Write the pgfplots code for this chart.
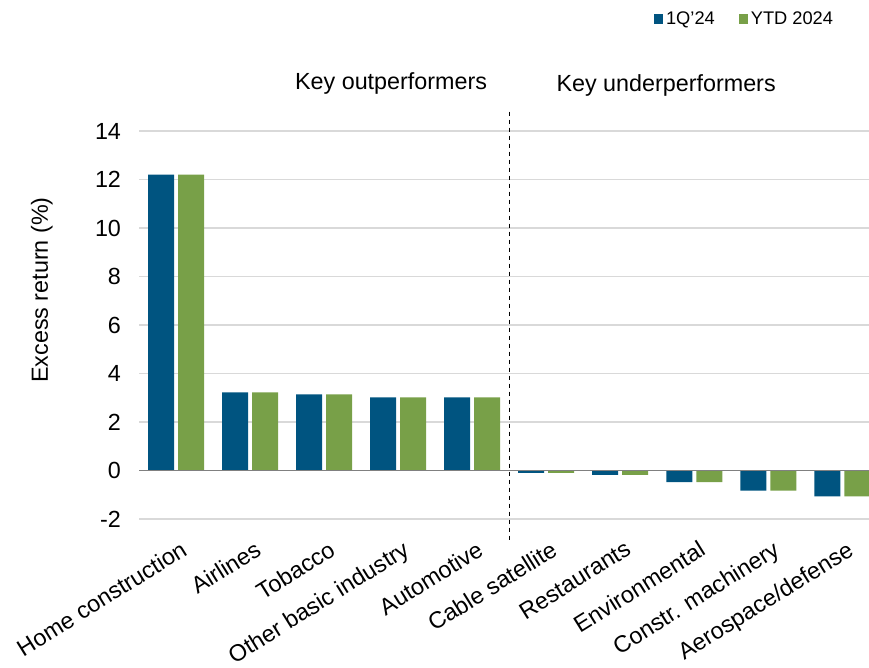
\documentclass[border=0pt]{standalone}
\usepackage{pgfplots}
\pgfplotsset{compat=1.18}
\usepackage{fontspec}
\setmainfont{Liberation Sans}
\definecolor{cblue}{RGB}{0,84,128}
\definecolor{cgreen}{RGB}{120,160,72}
\definecolor{cgrid}{RGB}{217,217,217}
\pgfplotsset{sqleg/.style={legend image code/.code={\fill[##1] (0pt,-3.6pt) rectangle (7pt,3.6pt);}}}
\newcommand{\bigf}{\fontsize{17.5}{20}\selectfont}
\begin{document}
\begin{tikzpicture}
\begin{axis}[
  name=ax,
  scale only axis,
  width=547.5pt, height=291pt,
  xmin=-0.5, xmax=9.36,
  ymin=-2, ymax=14,
  ybar=3pt, bar width=19.5pt,
  xtick={0,...,9},
  xticklabels={Home construction,Airlines,Tobacco,Other basic industry,Automotive,Cable satellite,Restaurants,Environmental,Constr. machinery,Aerospace/defense},
  xticklabel style={xshift=3pt, yshift=-14pt, rotate=32, anchor=north east, inner sep=1pt},
  ytick={-2,0,2,4,6,8,10,12,14},
  yticklabels={-2,0,2,4,6,8,10,12,14},
  yticklabel style={xshift=-10pt},
  major tick length=0pt,
  axis line style={draw=none},
  ymajorgrids, grid style={cgrid, line width=0.9pt},
  tick label style={font=\bigf},
  ylabel={Excess return (\%)},
  ylabel style={font=\bigf, at={(rel axis cs:-0.133,0.59)}, anchor=center},
  legend style={at={(rel axis cs:0.83,1.289)}, anchor=center, draw=none, font=\fontsize{13.7}{16}\selectfont, legend columns=2, /tikz/every even column/.append style={column sep=16pt}},
  clip=true,
]
\addplot[fill=cblue, draw=none, sqleg] coordinates {(0,12.2) (1,3.22) (2,3.14) (3,3.02) (4,3.02) (5,-0.10) (6,-0.18) (7,-0.48) (8,-0.83) (9,-1.07)};
\addlegendentry{1Q'24}
\addplot[fill=cgreen, draw=none, sqleg] coordinates {(0,12.2) (1,3.22) (2,3.14) (3,3.02) (4,3.02) (5,-0.10) (6,-0.18) (7,-0.48) (8,-0.83) (9,-1.07)};
\addlegendentry{YTD 2024}
\draw[gray, line width=0.9pt] (axis cs:-0.5,0) -- (axis cs:9.36,0);
\end{axis}
\begin{axis}[
  scale only axis, width=547.5pt, height=291pt,
  xmin=-0.5, xmax=9.36, ymin=-2, ymax=14, hide axis, clip=false]
\draw[black, dashed, line width=0.8pt] (axis cs:4.5,14.8) -- (axis cs:4.5,-2.9);
\node[font=\bigf] at (axis cs:2.905,15.95) {Key outperformers};
\node[font=\bigf] at (axis cs:6.62,15.87) {Key underperformers};
\end{axis}
\pgfresetboundingbox
\path[use as bounding box] ([xshift=-104.25pt,yshift=-111pt]ax.south west) rectangle ([yshift=98.25pt]ax.north east);
\end{tikzpicture}
\end{document}
